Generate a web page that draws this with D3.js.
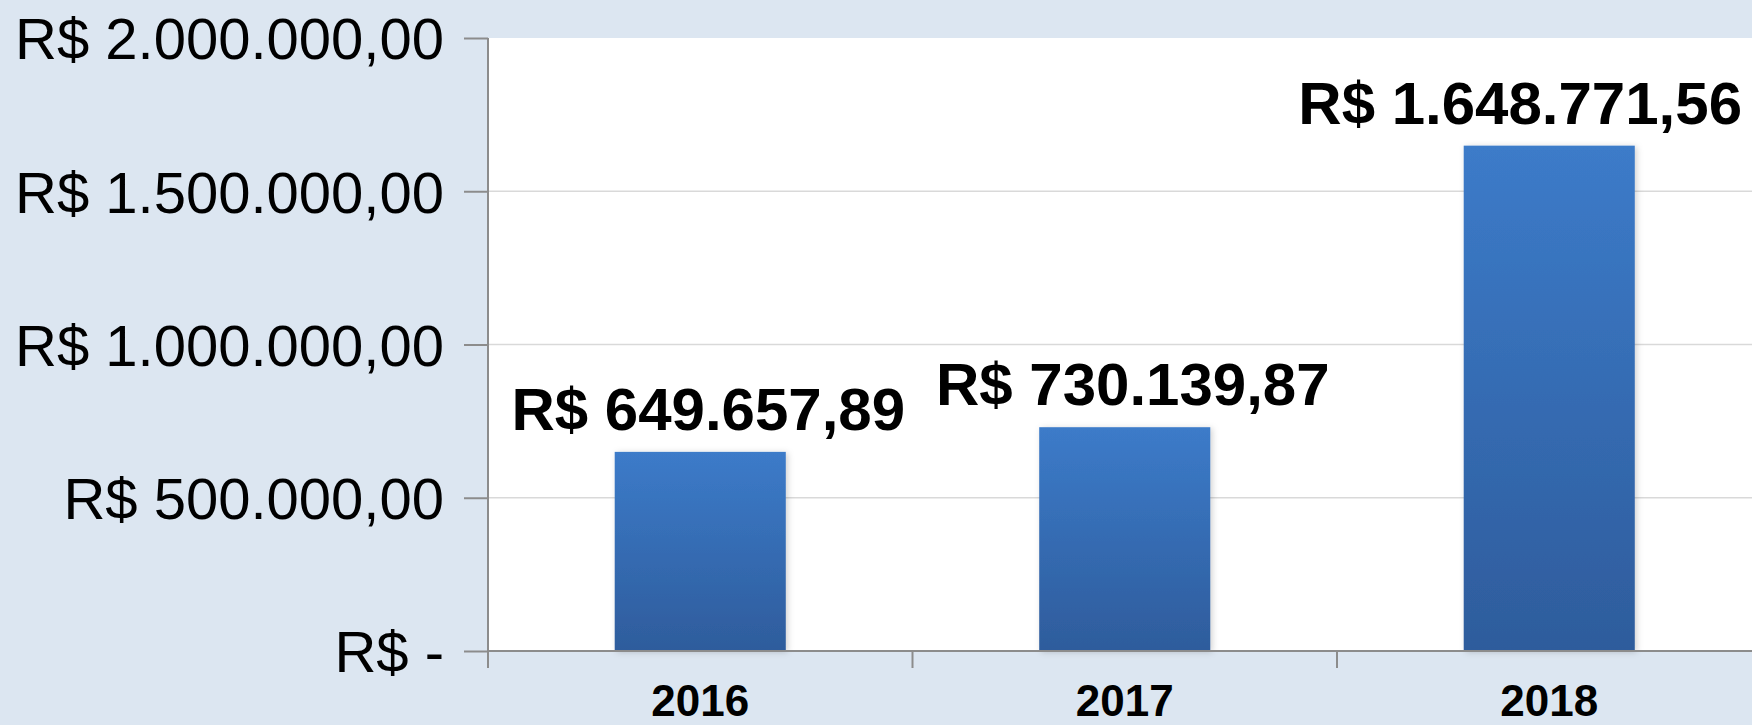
<!DOCTYPE html>
<html>
<head>
<meta charset="utf-8">
<script src="https://cdn.jsdelivr.net/npm/d3@7"></script>
<style>
  html, body { margin: 0; padding: 0; background: #dce6f1; }
  svg { display: block; font-family: "Liberation Sans", Arial, sans-serif; }
</style>
</head>
<body>
<div id="chart"></div>
<script>
// data
const years = ['2016', '2017', '2018'];
const values = [649657.89, 730139.87, 1648771.56];
const yTicks = [0, 500000, 1000000, 1500000, 2000000];

const W = 1752, H = 725;
const margin = {left: 488, top: 38, bottom: 74};   // plot box
const step = 424.5;                                 // width of one category
const plotH = H - margin.top - margin.bottom;

// pt-BR money format
const ptBR = d3.formatLocale({decimal: ',', thousands: '.', grouping: [3], currency: ['R$ ', '']});
const money = v => v === 0 ? 'R$ -' : ptBR.format('$,.2f')(v);

const x = d3.scaleBand()
  .domain(years)
  .range([margin.left, margin.left + years.length * step])
  .paddingInner(0.597)
  .paddingOuter(0.2985);

const y = d3.scaleLinear()
  .domain([0, 2000000])
  .range([margin.top + plotH, margin.top]);

const svg = d3.select('#chart')
  .append('svg')
  .attr('width', W)
  .attr('height', H);

const defs = svg.append('defs');
const grad = defs.append('linearGradient')
  .attr('id', 'barGrad')
  .attr('x1', 0).attr('y1', 0).attr('x2', 0).attr('y2', 1);
grad.append('stop').attr('offset', '0%').attr('stop-color', '#3c7bc9');
grad.append('stop').attr('offset', '100%').attr('stop-color', '#2e5c9c');

const shadow = defs.append('filter').attr('id', 'shadow')
  .attr('x', '-10%').attr('y', '-10%').attr('width', '130%').attr('height', '120%');
shadow.append('feDropShadow')
  .attr('dx', 2).attr('dy', 1).attr('stdDeviation', 3)
  .attr('flood-color', '#000').attr('flood-opacity', 0.18);

// plot area
svg.append('rect')
  .attr('x', margin.left)
  .attr('y', y(2000000))
  .attr('width', W - margin.left)
  .attr('height', y(0) - y(2000000))
  .attr('fill', '#ffffff');

// gridlines
svg.append('g')
  .selectAll('line')
  .data(yTicks.filter(t => t > 0 && t < 2000000))
  .join('line')
  .attr('x1', margin.left).attr('x2', W)
  .attr('y1', d => y(d)).attr('y2', d => y(d))
  .attr('stroke', '#d9d9d9')
  .attr('stroke-width', 1.5);

// bars
svg.append('g')
  .selectAll('rect')
  .data(years)
  .join('rect')
  .attr('x', d => x(d))
  .attr('y', (d, i) => y(values[i]))
  .attr('width', x.bandwidth())
  .attr('height', (d, i) => y(0) - y(values[i]))
  .attr('fill', 'url(#barGrad)')
  .attr('filter', 'url(#shadow)');

// y axis
const yAxis = d3.axisLeft(y)
  .tickValues(yTicks)
  .tickSize(24)
  .tickPadding(20)
  .tickFormat(money);

const gy = svg.append('g')
  .attr('transform', `translate(${margin.left},0)`)
  .call(yAxis);
gy.select('.domain').remove();
gy.selectAll('.tick line').attr('stroke', '#8c8c8c').attr('stroke-width', 2);
gy.selectAll('.tick text')
  .attr('fill', '#000')
  .style('font-size', '58px')
  .attr('dy', '0.36em');
gy.append('line')
  .attr('x1', 0).attr('x2', 0)
  .attr('y1', y(2000000)).attr('y2', y(0))
  .attr('stroke', '#8c8c8c').attr('stroke-width', 2);

// x axis: ticks sit between categories
const gx = svg.append('g');
gx.append('line')
  .attr('x1', margin.left).attr('x2', W)
  .attr('y1', y(0)).attr('y2', y(0))
  .attr('stroke', '#8c8c8c').attr('stroke-width', 2);
gx.selectAll('line.cat')
  .data(d3.range(years.length + 1))
  .join('line')
  .attr('class', 'cat')
  .attr('x1', i => margin.left + i * step)
  .attr('x2', i => margin.left + i * step)
  .attr('y1', y(0)).attr('y2', y(0) + 17)
  .attr('stroke', '#8c8c8c').attr('stroke-width', 2);
gx.selectAll('text')
  .data(years)
  .join('text')
  .attr('x', d => x(d) + x.bandwidth() / 2)
  .attr('y', H - 9)
  .attr('text-anchor', 'middle')
  .attr('font-weight', 'bold')
  .style('font-size', '44px')
  .attr('fill', '#000')
  .text(d => d);

// value labels, kept inside the chart on the right
const labels = svg.append('g')
  .selectAll('text')
  .data(years)
  .join('text')
  .attr('y', (d, i) => y(values[i]) - 22)
  .attr('text-anchor', 'middle')
  .attr('font-weight', 'bold')
  .style('font-size', '60px')
  .attr('fill', '#000')
  .text((d, i) => money(values[i]));

labels.each(function(d) {
  const wText = this.getComputedTextLength();
  let cx = x(d) + x.bandwidth() / 2 + 8;
  if (cx + wText / 2 > W - 10) cx = W - 10 - wText / 2;
  d3.select(this).attr('x', cx);
});
</script>
</body>
</html>
